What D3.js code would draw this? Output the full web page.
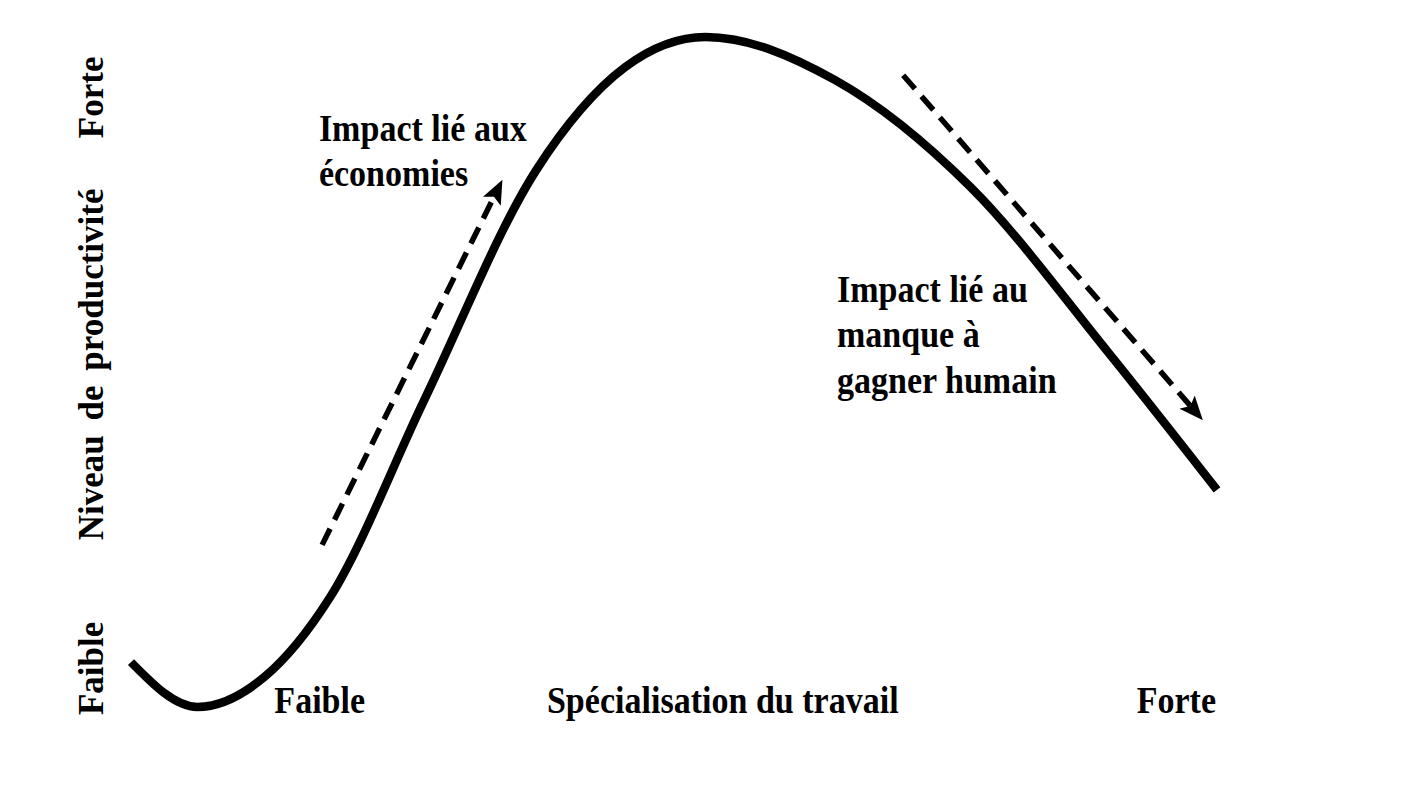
<!DOCTYPE html>
<html>
<head>
<meta charset="utf-8">
<script src="https://cdn.jsdelivr.net/npm/d3@7/dist/d3.min.js"></script>
<style>
  html, body { margin: 0; padding: 0; background: #fff; }
  svg { display: block; }
  text { font-family: "Liberation Serif", "Times New Roman", serif; font-weight: bold; fill: #000; }
</style>
</head>
<body>
<svg id="chart" width="1408" height="802"></svg>
<script>
// Curve: specialisation du travail (x, 0-100) vs niveau de productivité (y, 0-100)
const specialisation = [0, 6.1, 12.3, 18.3, 27.0, 37.3, 45.5, 52.9, 64.8, 77.3, 89.8, 100];
const productivite   = [6.7, 0, 4.5, 16.3, 45.8, 80.1, 95.5, 100, 93.6, 77.6, 53.3, 32.4];

// Dashed arrows (start -> end), in data units
const arrowX = [[17.6, 34.2], [71.1, 98.7]];
const arrowY = [[24.2, 78.7], [94.3, 42.8]];

// Annotations
const annotations = [
  { lines: ["Impact lié aux", "économies"], x: 17.3, y: 84.5 },
  { lines: ["Impact lié au", "manque à", "gagner humain"], x: 65.0, y: 60.5 }
];
const xAxisLabels = [
  { text: "Faible", x: 13.2 },
  { text: "Spécialisation du travail", x: 38.3 },
  { text: "Forte", x: 92.6 }
];
const yAxisLabels = [
  { text: "Faible", y: -1.2 },
  { text: "Niveau de productivité", y: 24.9 },
  { text: "Forte", y: 84.9 }
];

const svg = d3.select("#chart");
const x = d3.scaleLinear().domain([0, 100]).range([131, 1217]);
const y = d3.scaleLinear().domain([0, 100]).range([707, 37]);

const pts = specialisation.map((v, i) => [v, productivite[i]]);
const line = d3.line().x(d => x(d[0])).y(d => y(d[1])).curve(d3.curveMonotoneX);

svg.append("path")
  .attr("d", line(pts))
  .attr("fill", "none")
  .attr("stroke", "#000")
  .attr("stroke-width", 8.5)
  .attr("stroke-linecap", "butt");

// arrow marker
const defs = svg.append("defs");
defs.append("marker")
  .attr("id", "head")
  .attr("markerUnits", "userSpaceOnUse")
  .attr("viewBox", "0 0 24 20")
  .attr("refX", 24).attr("refY", 10)
  .attr("markerWidth", 24).attr("markerHeight", 20)
  .attr("orient", "auto")
  .append("path")
  .attr("d", "M0,0 L24,10 L0,20 L5,10 Z")
  .attr("fill", "#000");

arrowX.forEach((ax, i) => {
  const ay = arrowY[i];
  const x1 = x(ax[0]), y1 = y(ay[0]), x2 = x(ax[1]), y2 = y(ay[1]);
  const len = Math.hypot(x2 - x1, y2 - y1);
  const ux = (x2 - x1) / len, uy = (y2 - y1) / len;
  svg.append("line")
    .attr("x1", x1).attr("y1", y1)
    .attr("x2", x2 - ux * 18).attr("y2", y2 - uy * 18)
    .attr("stroke", "#000")
    .attr("stroke-width", 5.5)
    .attr("stroke-dasharray", "18 10");
  svg.append("line")
    .attr("x1", x2 - ux * 22).attr("y1", y2 - uy * 22)
    .attr("x2", x2).attr("y2", y2)
    .attr("stroke", "none")
    .attr("marker-end", "url(#head)");
});

const SX = 0.92;
annotations.forEach(a => {
  const t = svg.append("text")
    .attr("transform", `translate(${x(a.x)},${y(a.y)}) scale(${SX},1)`)
    .attr("font-size", 37);
  a.lines.forEach((l, i) => {
    t.append("tspan").attr("x", 0).attr("dy", i === 0 ? 0 : 45.5).text(l);
  });
});

xAxisLabels.forEach(l => {
  svg.append("text")
    .attr("transform", `translate(${x(l.x)},713) scale(${SX},1)`)
    .attr("font-size", 37)
    .text(l.text);
});

yAxisLabels.forEach(l => {
  svg.append("text")
    .attr("transform", `translate(103,${y(l.y)}) rotate(-90)`)
    .attr("font-size", 35)
    .attr("word-spacing", 6)
    .text(l.text);
});
</script>
</body>
</html>
